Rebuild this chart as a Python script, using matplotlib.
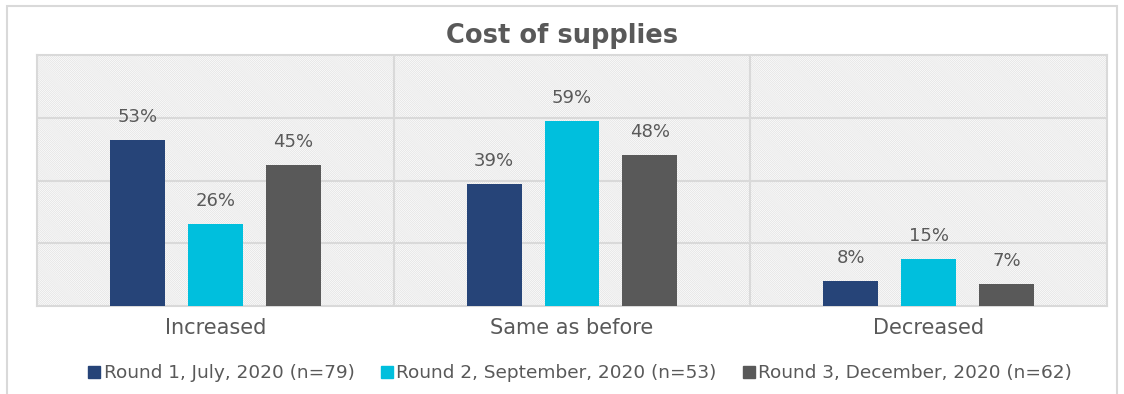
import matplotlib
matplotlib.use("Agg")
import matplotlib.pyplot as plt
from matplotlib.patches import Rectangle
from matplotlib.lines import Line2D
import numpy as np

categories = ["Increased", "Same as before", "Decreased"]
series_names = [
    "Round 1, July, 2020 (n=79)",
    "Round 2, September, 2020 (n=53)",
    "Round 3, December, 2020 (n=62)",
]
round1 = [53, 39, 8]
round2 = [26, 59, 15]
round3 = [45, 48, 7]
colors = ["#264478", "#00BFDD", "#595959"]

text_color = "#595959"
grid_color = "#d9d9d9"

plt.rcParams["font.family"] = ["DejaVu Sans"]
plt.rcParams["hatch.linewidth"] = 0.45
plt.rcParams["hatch.color"] = "#dedede"

W, H = 1124, 394
fig = plt.figure(figsize=(W / 100, H / 100), dpi=100)

# outer chart frame
fig.patches.append(Rectangle((7 / W, -0.05), (1117 - 7) / W, 1.05 - 6 / H,
                             transform=fig.transFigure, fill=False,
                             edgecolor=grid_color, linewidth=1.5))

ax = fig.add_axes([37 / W, 1 - 306 / H, (1107 - 37) / W, (306 - 55) / H])
ax.set_xlim(-0.5, 2.5)
ax.set_ylim(0, 80)

# hatched plot background
ax.add_patch(Rectangle((0, 0), 1, 1, transform=ax.transAxes, facecolor="white",
                       hatch="\\" * 17, linewidth=0, zorder=0))

for y in [20, 40, 60]:
    ax.axhline(y, color=grid_color, linewidth=1.5, zorder=1)
for x in [0.5, 1.5]:
    ax.axvline(x, color=grid_color, linewidth=1.5, zorder=1)
for s in ax.spines.values():
    s.set_color(grid_color)
    s.set_linewidth(1.5)

x = np.arange(len(categories))
width = 0.154
step = 0.218
all_series = [round1, round2, round3]
for i, (vals, c) in enumerate(zip(all_series, colors)):
    pos = x + (i - 1) * step
    ax.bar(pos, vals, width=width, color=c, zorder=3, label=series_names[i])
    for px, v in zip(pos, vals):
        ax.text(px, v + 4.5, f"{v}%", ha="center", va="bottom",
                fontsize=13, color=text_color, zorder=4)

ax.set_xticks(x)
ax.set_xticklabels(categories, fontsize=15, color=text_color)
ax.tick_params(axis="x", length=0, pad=9)
ax.set_yticks([])

fig.text(0.5, 1 - 36 / H, "Cost of supplies", ha="center", va="center",
         fontsize=18.5, fontweight="bold", color=text_color)

handles = [Line2D([], [], marker="s", linestyle="none", markersize=9,
                  markerfacecolor=c, markeredgecolor=c) for c in colors]
fig.legend(handles, series_names, loc="center",
           bbox_to_anchor=(580 / W, 1 - 373 / H),
           ncol=3, frameon=False, fontsize=13.3, labelcolor=text_color,
           handlelength=0.7, handletextpad=0.15, columnspacing=1.4)

fig.savefig("out.png", dpi=100)
